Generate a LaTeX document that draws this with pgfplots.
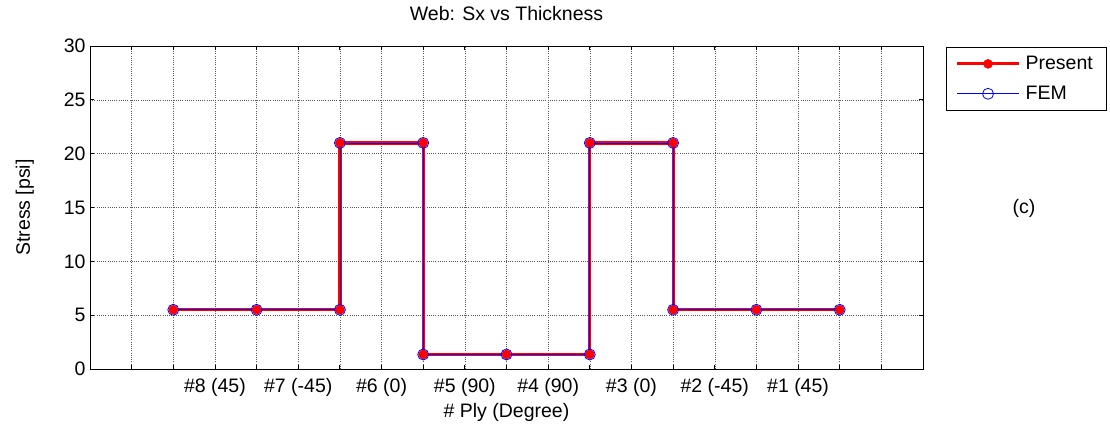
\documentclass[border=0pt]{standalone}
\usepackage{fontspec}
\setmainfont{Liberation Sans}
\usepackage{pgfplots}
\pgfplotsset{compat=1.18}

% Stress through the web laminate, ply by ply
\pgfplotstableread{
x y
2 5.5
4 5.5
6 5.5
6 21
8 21
8 1.35
10 1.35
12 1.35
12 21
14 21
14 5.5
16 5.5
18 5.5
}\present
\pgfplotstableread{
x y
2 5.5
4 5.5
6 5.5
6 21
8 21
8 1.35
10 1.35
12 1.35
12 21
14 21
14 5.5
16 5.5
18 5.5
}\fem

\begin{document}
\begin{tikzpicture}[font=\fontsize{19.5}{23}\selectfont]
\path[use as bounding box] (0pt,0pt) rectangle (1110pt,424pt);
\begin{axis}[
  at={(90pt,55pt)}, anchor=south west,
  scale only axis, width=833pt, height=323pt,
  xmin=0, xmax=20, ymin=0, ymax=30,
  xtick={0,...,20},
  xticklabels={,,,\#8 (45),,\#7 (-45),,\#6 (0),,\#5 (90),,\#4 (90),,\#3 (0),,\#2 (-45),,\#1 (45),,,},
  ytick={0,5,...,30},
  /pgf/number format/assume math mode=true,
  ticklabel style={font=\fontsize{19.5}{23}\selectfont},
  xticklabel style={anchor=base, yshift=-23pt},
  yticklabel style={anchor=east, xshift=-1pt},
  tick align=inside,
  major tick length=4pt,
  tick style={black, line width=0.9pt},
  axis line style={black, line width=0.9pt},
  grid=major,
  major grid style={black!65, line width=0.5pt, dash pattern=on 1pt off 1.2pt},
  title={Web: Sx vs Thickness},
  title style={at={(axis description cs:0.5,1)}, anchor=base, yshift=20pt, font=\fontsize{19.5}{23}\selectfont},
  xlabel={\# Ply (Degree)},
  xlabel style={at={(axis description cs:0.5,0)}, anchor=base, yshift=-48pt},
  ylabel={Stress [psi]},
  ylabel style={at={(axis description cs:0,0.5)}, anchor=base, yshift=60pt},
  legend image code/.code={
    \draw[mark repeat=2, mark phase=2, #1] plot coordinates {(0pt,0pt) (31pt,0pt) (62pt,0pt)};
  },
  legend cell align=left,
  legend style={
    at={(axis description cs:1.0276,0.997)}, anchor=north west,
    draw=black, line width=0.9pt, fill=white,
    inner xsep=9pt, inner ysep=7pt, row sep=11pt,
    nodes={inner xsep=5pt, inner ysep=2pt},
    font=\fontsize{19.5}{23}\selectfont,
  },
]
\addplot[red, line width=3.2pt, mark=*, mark size=4.5pt,
  mark options={fill=red, draw=red, line width=0.5pt}] table[x=x, y=y] {\present};
\addlegendentry{Present}
\addplot[blue, line width=0.75pt, mark=o, mark size=5.5pt,
  mark options={draw=blue, line width=0.8pt}] table[x=x, y=y] {\fem};
\addlegendentry{FEM}
\end{axis}
\node at (1024pt,216pt) {(c)};
\end{tikzpicture}
\end{document}
